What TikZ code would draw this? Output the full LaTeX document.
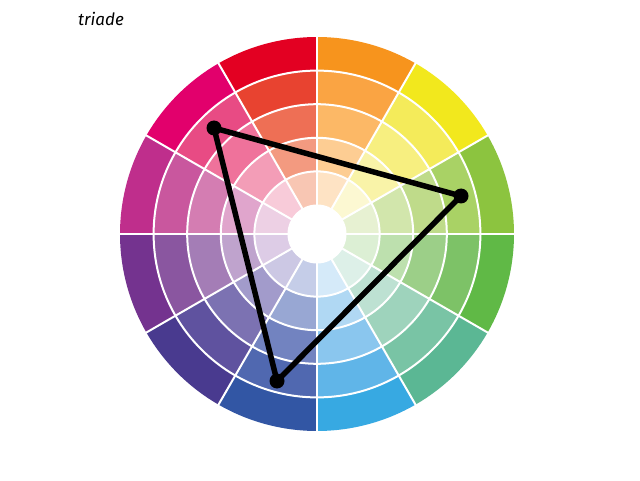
\documentclass[tikz,border=0pt]{standalone}
\usepackage{fontspec}
\newfontfamily\handfont{Fira Sans}
\tikzset{
  vertexdot/.style={circle,fill=black,inner sep=0pt,minimum size=15pt},
  triedge/.style={line width=5.5pt,line join=round,black},
  sep/.style={white,line width=2pt},
  titletext/.style={font=\handfont\fontsize{17}{17}\selectfont\itshape}
}
\begin{document}
\begin{tikzpicture}[x=1pt,y=1pt]
\useasboundingbox (0,0) rectangle (640,480);
\fill[white] (0,0) rectangle (640,480);
\begin{scope}[shift={(317,246)}]
\foreach \a/\ca/\cb/\cc/\cd/\ce in {
  0/8CC43F/A9D265/BFDB8A/D2E6AC/E7F1D2,
  30/F2E81D/F4EB5A/F7EF80/F9F3A8/FCF8D2,
  60/F7941D/FAA443/FCB866/FDCD93/FEE3C4,
  90/E30022/E84330/EE6F55/F39A80/F8C6B3,
  120/E2006C/E84B84/EF729B/F39DB7/F8CBD9,
  150/BF2E8C/C9579E/D47DB2/E0A5CC/EDD0E4,
  180/74338F/8A56A0/A47DB6/BFA3CD/DDCCE6,
  210/493A8F/5F529F/7C72B2/A29BCB/CCC8E4,
  240/3256A4/5068B0/7283C0/98A7D3/C5CDE8,
  270/37A9E2/60B5E8/8AC6EE/B0D8F3/D5EAF9,
  300/5BB794/79C4A5/9ED3BC/BDE1D2/DDF0E8,
  330/60B946/7DC267/9CCF88/BDE0AE/DCEFD4}{
  \foreach \c [count=\j from 0] in {\ca,\cb,\cc,\cd,\ce}{
    \definecolor{tmp}{HTML}{\c}
    \pgfmathsetmacro\ro{197-\j*33.6}
    \pgfmathsetmacro\ri{\ro-33.6}
    \fill[tmp] (\a:\ro) arc[start angle=\a, end angle={\a+30}, radius=\ro]
      -- ({\a+30}:\ri) arc[start angle={\a+30}, end angle=\a, radius=\ri] -- cycle;
  }
}
\foreach \r in {163.4,129.8,96.2,62.6} \draw[sep] (0,0) circle (\r);
\foreach \a in {0,30,...,330} \draw[sep] (\a:29) -- (\a:198);
\fill[white] (0,0) circle (29.5);
\end{scope}
\node[vertexdot] (p1) at (214,352) {};
\node[vertexdot] (p2) at (461,284) {};
\node[vertexdot] (p3) at (277,99) {};
\draw[triedge] (p1.center) -- (p2.center) -- (p3.center) -- cycle;
\node[titletext] (title) at (101,461) {triade};
\end{tikzpicture}
\end{document}
